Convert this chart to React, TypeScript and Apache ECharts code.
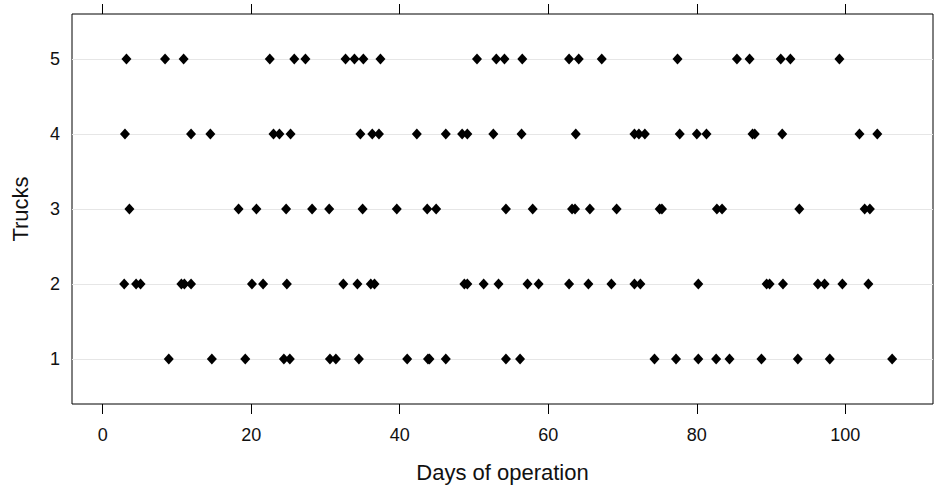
import React, { useEffect, useRef } from "react";
import * as echarts from "echarts";

// Days on which each truck was in operation
const truck1Days = [8.9, 14.7, 19.2, 24.4, 25.2, 30.6, 31.4, 34.5, 41.0, 43.8, 44.0, 46.2, 54.3, 56.2, 74.3, 77.2, 80.2, 82.6, 84.4, 88.7, 93.6, 97.9, 106.3];
const truck2Days = [2.9, 4.5, 5.1, 10.6, 11.0, 11.9, 20.1, 21.6, 24.8, 32.4, 34.3, 36.1, 36.6, 48.7, 49.1, 51.3, 53.3, 57.2, 58.7, 62.8, 65.4, 68.5, 71.6, 72.4, 80.2, 89.4, 89.8, 91.6, 96.3, 97.2, 99.6, 103.1];
const truck3Days = [3.6, 18.3, 20.7, 24.7, 28.2, 30.5, 35.0, 39.6, 43.7, 44.9, 54.3, 57.9, 63.2, 63.6, 65.6, 69.2, 75.0, 75.3, 82.7, 83.4, 93.8, 102.6, 103.3];
const truck4Days = [3.0, 11.9, 14.5, 23.0, 23.8, 25.3, 34.7, 36.3, 37.2, 42.3, 46.2, 48.4, 49.1, 52.6, 56.4, 63.7, 71.6, 72.2, 73.0, 77.7, 80.0, 81.3, 87.5, 87.8, 91.5, 101.9, 104.3];
const truck5Days = [3.2, 8.4, 10.9, 22.5, 25.8, 27.3, 32.7, 33.9, 35.1, 37.4, 50.4, 53.0, 54.1, 56.5, 62.8, 64.1, 67.2, 77.4, 85.4, 87.1, 91.3, 92.6, 99.2];

const trucks = [1, 2, 3, 4, 5];
const xTicks = [0, 20, 40, 60, 80, 100];

export default function App() {
  const ref = useRef<HTMLDivElement>(null);

  useEffect(() => {
    if (!ref.current) return;
    const chart = echarts.init(ref.current, undefined, { renderer: "svg" });
    const allDays = [truck1Days, truck2Days, truck3Days, truck4Days, truck5Days];
    const points: number[][] = [];
    allDays.forEach((days, i) => days.forEach((d) => points.push([d, trucks[i]])));

    const font = "'Liberation Sans', Arial, sans-serif";

    chart.setOption({
      animation: false,
      backgroundColor: "#fff",
      grid: {
        left: 72,
        right: 2,
        top: 14,
        bottom: 85,
        show: true,
        borderColor: "#000",
        borderWidth: 1,
        backgroundColor: "transparent",
      },
      xAxis: [
        {
          type: "value",
          position: "bottom",
          min: -4.13,
          max: 111.8,
          name: "Days of operation",
          nameLocation: "middle",
          nameGap: 57,
          nameTextStyle: { fontFamily: font, fontSize: 22, color: "#111" },
          axisLine: { show: false },
          axisTick: { show: true, length: 10, customValues: xTicks, lineStyle: { color: "#000" } },
          axisLabel: { customValues: xTicks, margin: 22, fontFamily: font, fontSize: 18, color: "#111" },
          splitLine: { show: false },
        },
        {
          type: "value",
          position: "top",
          min: -4.13,
          max: 111.8,
          axisLine: { show: false },
          axisTick: { show: true, length: 10, customValues: xTicks, lineStyle: { color: "#000" } },
          axisLabel: { show: false },
          splitLine: { show: false },
        },
      ],
      yAxis: {
        type: "value",
        min: 0.4,
        max: 5.6,
        name: "Trucks",
        nameLocation: "middle",
        nameGap: 41,
        nameTextStyle: { fontFamily: font, fontSize: 22, color: "#111" },
        axisLine: { show: false },
        axisTick: { show: false, customValues: trucks },
        axisLabel: { customValues: trucks, margin: 12, fontFamily: font, fontSize: 18, color: "#111" },
        splitLine: { show: false },
      },
      series: [
        {
          type: "scatter",
          xAxisIndex: 0,
          z: 3,
          symbol: "diamond",
          symbolSize: [10, 11],
          itemStyle: { color: "#000", opacity: 1 },
          data: points,
          markLine: {
            z: 1,
            silent: true,
            symbol: ["none", "none"],
            label: { show: false },
            lineStyle: { color: "#e6e6e6", type: "solid", width: 1 },
            data: trucks.map((t) => ({ yAxis: t })),
          },
        },
      ],
    });
    return () => chart.dispose();
  }, []);

  return (
    <div
      ref={ref}
      style={{ position: "fixed", left: 0, top: 0, width: 935, height: 489 }}
    />
  );
}
